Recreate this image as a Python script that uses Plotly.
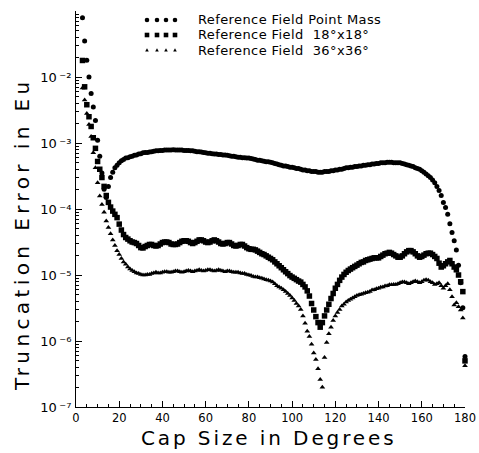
import plotly.graph_objects as go

# ---------------- data ----------------
cap_size_deg = list(range(3, 181))

err_point_mass = [
    7.9e-2, 3.5e-2, 1.8e-2, 1.0e-2, 5.6e-3, 3.5e-3, 2.2e-3, 1.1e-3,
    6.3e-4, 3.5e-4, 2.0e-4, 1.5e-4, 2.2e-4, 3.0e-4, 3.6e-4, 4.2e-4, 4.6e-4, 5.0e-4,
    5.4e-4, 5.6e-4, 5.9e-4, 6.0e-4, 6.2e-4, 6.3e-4, 6.5e-4, 6.6e-4, 6.8e-4, 6.9e-4,
    7.1e-4, 7.2e-4, 7.2e-4, 7.3e-4, 7.4e-4, 7.5e-4, 7.6e-4, 7.6e-4, 7.7e-4, 7.7e-4,
    7.8e-4, 7.8e-4, 7.8e-4, 7.8e-4, 7.9e-4, 7.8e-4, 7.8e-4, 7.8e-4, 7.8e-4, 7.7e-4,
    7.7e-4, 7.7e-4, 7.6e-4, 7.6e-4, 7.5e-4, 7.4e-4, 7.4e-4, 7.3e-4, 7.2e-4, 7.1e-4,
    7.0e-4, 7.0e-4, 6.9e-4, 6.8e-4, 6.8e-4, 6.7e-4, 6.7e-4, 6.6e-4, 6.6e-4, 6.5e-4,
    6.4e-4, 6.3e-4, 6.3e-4, 6.2e-4, 6.1e-4, 6.1e-4, 6.0e-4, 6.0e-4, 5.9e-4, 5.9e-4,
    5.8e-4, 5.7e-4, 5.6e-4, 5.5e-4, 5.5e-4, 5.4e-4, 5.3e-4, 5.2e-4, 5.2e-4, 5.1e-4,
    5.0e-4, 4.9e-4, 4.8e-4, 4.7e-4, 4.6e-4, 4.5e-4, 4.5e-4, 4.4e-4, 4.3e-4, 4.3e-4,
    4.2e-4, 4.1e-4, 4.1e-4, 4.0e-4, 3.9e-4, 3.9e-4, 3.8e-4, 3.8e-4, 3.7e-4, 3.7e-4,
    3.7e-4, 3.6e-4, 3.6e-4, 3.6e-4, 3.7e-4, 3.7e-4, 3.7e-4, 3.8e-4, 3.8e-4, 3.9e-4,
    3.9e-4, 4.0e-4, 4.0e-4, 4.1e-4, 4.2e-4, 4.2e-4, 4.3e-4, 4.3e-4, 4.4e-4, 4.4e-4,
    4.5e-4, 4.5e-4, 4.6e-4, 4.6e-4, 4.7e-4, 4.7e-4, 4.8e-4, 4.8e-4, 4.9e-4, 4.9e-4,
    5.0e-4, 5.0e-4, 5.0e-4, 5.1e-4, 5.1e-4, 5.1e-4, 5.0e-4, 5.0e-4, 5.0e-4, 5.0e-4,
    4.9e-4, 4.8e-4, 4.7e-4, 4.6e-4, 4.5e-4, 4.4e-4, 4.2e-4, 4.1e-4, 4.0e-4, 3.8e-4,
    3.6e-4, 3.4e-4, 3.2e-4, 3.0e-4, 2.75e-4, 2.5e-4, 2.2e-4, 1.9e-4, 1.6e-4, 1.26e-4,
    1.05e-4, 8.3e-5, 6.0e-5, 4.4e-5, 3.3e-5, 2.4e-5, 1.4e-5, 7.6e-6, 3.2e-6, 5.8e-7,
]

err_18x18 = [
    1.78e-2, 7.1e-3, 3.8e-3, 2.5e-3, 1.78e-3, 1.2e-3, 8.3e-4, 5.25e-4,
    4.0e-4, 3.0e-4, 2.2e-4, 1.6e-4, 1.26e-4, 1.07e-4, 9.3e-5, 8.3e-5, 7.4e-5, 5.9e-5,
    4.8e-5, 4.1e-5, 3.7e-5, 3.5e-5, 3.3e-5, 3.16e-5, 3.1e-5, 3.0e-5, 2.8e-5, 2.6e-5,
    2.57e-5, 2.7e-5, 2.8e-5, 2.9e-5, 2.9e-5, 2.8e-5, 2.75e-5, 2.8e-5, 2.95e-5, 3.1e-5,
    3.16e-5, 3.16e-5, 3.1e-5, 2.95e-5, 2.9e-5, 2.9e-5, 2.95e-5, 3.1e-5, 3.24e-5, 3.3e-5,
    3.3e-5, 3.24e-5, 3.1e-5, 3.0e-5, 3.1e-5, 3.24e-5, 3.4e-5, 3.4e-5, 3.3e-5, 3.16e-5,
    3.1e-5, 3.16e-5, 3.3e-5, 3.4e-5, 3.3e-5, 3.16e-5, 3.0e-5, 2.95e-5, 3.0e-5, 3.1e-5,
    3.1e-5, 2.95e-5, 2.8e-5, 2.75e-5, 2.8e-5, 2.9e-5, 2.9e-5, 2.75e-5, 2.6e-5, 2.5e-5,
    2.45e-5, 2.45e-5, 2.4e-5, 2.3e-5, 2.2e-5, 2.1e-5, 2.04e-5, 1.95e-5, 1.86e-5, 1.78e-5,
    1.7e-5, 1.58e-5, 1.48e-5, 1.38e-5, 1.29e-5, 1.2e-5, 1.12e-5, 1.05e-5, 9.8e-6, 9.3e-6,
    8.9e-6, 8.5e-6, 8.1e-6, 7.8e-6, 7.2e-6, 6.6e-6, 5.75e-6, 4.8e-6, 3.7e-6, 2.95e-6,
    2.34e-6, 1.9e-6, 1.62e-6, 1.9e-6, 2.4e-6, 2.95e-6, 3.6e-6, 4.4e-6, 5.25e-6, 6.3e-6,
    7.2e-6, 8.3e-6, 9.3e-6, 1.02e-5, 1.1e-5, 1.17e-5, 1.23e-5, 1.29e-5, 1.35e-5, 1.41e-5,
    1.48e-5, 1.55e-5, 1.58e-5, 1.66e-5, 1.7e-5, 1.74e-5, 1.78e-5, 1.82e-5, 1.82e-5, 1.82e-5,
    1.91e-5, 2.0e-5, 2.1e-5, 2.14e-5, 2.2e-5, 2.14e-5, 2.04e-5, 1.95e-5, 1.86e-5, 1.86e-5,
    1.95e-5, 2.1e-5, 2.24e-5, 2.34e-5, 2.34e-5, 2.24e-5, 2.1e-5, 1.95e-5, 1.86e-5, 1.91e-5,
    2.0e-5, 2.1e-5, 2.14e-5, 2.14e-5, 2.04e-5, 1.91e-5, 1.78e-5, 1.51e-5, 1.32e-5, 1.38e-5,
    1.48e-5, 1.58e-5, 1.66e-5, 1.48e-5, 1.32e-5, 1.2e-5, 1.0e-5, 7.9e-6, 5.6e-6, 5.0e-7,
]

err_36x36 = [
    6.8e-3, 4.5e-3, 2.8e-3, 1.9e-3, 1.26e-3, 7.1e-4, 4.2e-4, 2.5e-4,
    1.58e-4, 1.17e-4, 8.9e-5, 6.6e-5, 5.25e-5, 4.2e-5, 3.4e-5, 2.8e-5, 2.34e-5, 2.04e-5,
    1.78e-5, 1.58e-5, 1.45e-5, 1.32e-5, 1.23e-5, 1.17e-5, 1.12e-5, 1.07e-5, 1.05e-5, 1.02e-5,
    1.0e-5, 1.0e-5, 1.02e-5, 1.02e-5, 1.05e-5, 1.07e-5, 1.1e-5, 1.07e-5, 1.07e-5, 1.1e-5,
    1.12e-5, 1.12e-5, 1.1e-5, 1.1e-5, 1.12e-5, 1.15e-5, 1.15e-5, 1.12e-5, 1.1e-5, 1.12e-5,
    1.15e-5, 1.17e-5, 1.15e-5, 1.12e-5, 1.15e-5, 1.17e-5, 1.2e-5, 1.17e-5, 1.15e-5, 1.17e-5,
    1.2e-5, 1.2e-5, 1.17e-5, 1.15e-5, 1.17e-5, 1.2e-5, 1.17e-5, 1.15e-5, 1.12e-5, 1.15e-5,
    1.15e-5, 1.12e-5, 1.1e-5, 1.1e-5, 1.1e-5, 1.07e-5, 1.05e-5, 1.05e-5, 1.02e-5, 1.0e-5,
    9.8e-6, 9.5e-6, 9.3e-6, 9.3e-6, 9.1e-6, 8.9e-6, 8.7e-6, 8.5e-6, 8.3e-6, 8.1e-6,
    7.8e-6, 7.4e-6, 6.9e-6, 6.6e-6, 6.3e-6, 6.0e-6, 5.6e-6, 5.25e-6, 4.9e-6, 4.5e-6,
    4.1e-6, 3.7e-6, 3.4e-6, 3.0e-6, 2.4e-6, 1.86e-6, 1.41e-6, 1.17e-6, 8.9e-7, 6.6e-7,
    5.25e-7, 3.8e-7, 2.6e-7, 2.0e-7, 5.6e-7, 9.5e-7, 1.29e-6, 1.62e-6, 2.04e-6, 2.4e-6,
    2.7e-6, 3.0e-6, 3.4e-6, 3.6e-6, 3.9e-6, 4.1e-6, 4.3e-6, 4.5e-6, 4.7e-6, 4.9e-6,
    5.0e-6, 5.1e-6, 5.25e-6, 5.4e-6, 5.5e-6, 5.6e-6, 5.9e-6, 6.0e-6, 6.2e-6, 6.3e-6,
    6.5e-6, 6.6e-6, 6.8e-6, 6.9e-6, 7.1e-6, 7.1e-6, 7.2e-6, 7.2e-6, 7.4e-6, 7.6e-6,
    7.8e-6, 7.8e-6, 7.6e-6, 7.4e-6, 7.6e-6, 7.9e-6, 8.1e-6, 7.9e-6, 7.6e-6, 7.9e-6,
    8.3e-6, 8.5e-6, 8.3e-6, 7.9e-6, 7.6e-6, 7.2e-6, 7.4e-6, 7.6e-6, 6.9e-6, 6.3e-6,
    6.9e-6, 7.4e-6, 6.0e-6, 4.7e-6, 3.5e-6, 3.8e-6, 3.3e-6, 2.95e-6, 2.24e-6, 4.2e-7,
]

series_names = [
    "Reference Field Point Mass",
    "Reference Field  18°x18°",
    "Reference Field  36°x36°",
]

x_tick_vals = [0, 20, 40, 60, 80, 100, 120, 140, 160, 180]
x_tick_text = ["0", "20", "40", "60", "80", "100", "120", "140", "160", "180"]
y_tick_vals = [1e-7, 1e-6, 1e-5, 1e-4, 1e-3, 1e-2]
y_tick_text = ["10\u2009⁻⁷", "10\u2009⁻⁶", "10\u2009⁻⁵", "10\u2009⁻⁴", "10\u2009⁻³", "10\u2009⁻²"]
y_minor_vals = [m * d for d in (1e-7, 1e-6, 1e-5, 1e-4, 1e-3, 1e-2) for m in range(2, 10)]

x_title = "Cap Size in Degrees"
y_title = "Truncation Error in Eu"

# ---------------- layout constants ----------------
W, H = 479, 453
L, R, T, B = 76, 14, 11, 46
PW, PH = W - L - R, H - T - B
FONT = "DejaVu Sans"


def px_x(px):
    return (px - L) / PW


def px_y(py):
    return (H - B - py) / PH


def spaced(text, px):
    return '<span style="letter-spacing:%.1fpx">%s</span>' % (px, text)


symbols = ["circle", "square", "triangle-up"]
sizes = [5, 5.5, 5]
series = [err_point_mass, err_18x18, err_36x36]

fig = go.Figure()
for name, vals, sym, sz in zip(series_names, series, symbols, sizes):
    fig.add_trace(go.Scatter(
        x=cap_size_deg, y=vals, mode="markers", name=name, showlegend=False,
        cliponaxis=False,
        marker=dict(symbol=sym, size=sz, color="black", line=dict(width=0)),
    ))

# hand-made legend (four sample marks per row, as in the original)
shapes = []
annotations = []
row_y = [20, 35, 50]
mark_x = [147, 157, 166, 175]
for i, name in enumerate(series_names):
    yp = px_y(row_y[i])
    for mx in mark_x:
        xp = px_x(mx)
        common = dict(xref="paper", yref="paper", xsizemode="pixel", ysizemode="pixel",
                      xanchor=xp, yanchor=yp, fillcolor="black", line=dict(width=0))
        if i == 0:
            shapes.append(dict(type="circle", x0=-2.3, x1=2.3, y0=-2.3, y1=2.3, **common))
        elif i == 1:
            shapes.append(dict(type="rect", x0=-2.3, x1=2.3, y0=-2.3, y1=2.3, **common))
        else:
            shapes.append(dict(type="path", path="M -1.8 -1.4 L 1.8 -1.4 L 0 1.8 Z", **common))
    annotations.append(dict(
        text=spaced(name, 0.4), xref="paper", yref="paper", x=px_x(196), y=yp,
        xanchor="left", yanchor="middle", showarrow=False,
        font=dict(family=FONT, size=13, color="black"),
    ))

annotations.append(dict(
    text=spaced(x_title, 2.9), xref="paper", yref="paper", x=px_x(269), y=px_y(438),
    xanchor="center", yanchor="middle", showarrow=False,
    font=dict(family=FONT, size=20, color="black"),
))
annotations.append(dict(
    text=spaced(y_title, 4.4), xref="paper", yref="paper", x=px_x(22), y=px_y(234),
    xanchor="center", yanchor="middle", showarrow=False, textangle=-90,
    font=dict(family=FONT, size=20, color="black"),
))

fig.update_layout(
    width=W, height=H, autosize=False,
    margin=dict(l=L, r=R, t=T, b=B, pad=0),
    paper_bgcolor="white", plot_bgcolor="white",
    font=dict(family=FONT, size=12, color="black"),
    showlegend=False,
    shapes=shapes,
    annotations=annotations,
)

fig.update_xaxes(
    range=[0, 180], tickvals=x_tick_vals, ticktext=x_tick_text,
    ticks="inside", ticklen=6, tickwidth=1, tickcolor="black",
    showline=True, linecolor="black", linewidth=1, automargin=False,
    showgrid=False, zeroline=False, ticklabelstandoff=0,
    tickfont=dict(family=FONT, size=11.5, color="black"),
    minor=dict(dtick=5, tick0=0, ticks="inside", ticklen=3, tickwidth=1,
               tickcolor="black", showgrid=False),
)
fig.update_yaxes(
    type="log", range=[-7, -1], tickvals=y_tick_vals, ticktext=y_tick_text,
    ticks="inside", ticklen=6, tickwidth=1, tickcolor="black",
    showline=True, linecolor="black", linewidth=1, automargin=False,
    showgrid=False, zeroline=False, ticklabelstandoff=1,
    tickfont=dict(family=FONT, size=13, color="black"),
    minor=dict(tickmode="array", tickvals=y_minor_vals, ticks="inside", ticklen=3,
               tickwidth=1, tickcolor="black", showgrid=False),
)

fig.write_html(
    "out.html",
    config={"displayModeBar": False},
    post_script="document.body.style.margin='0';"
                "document.documentElement.style.overflow='hidden';",
)
